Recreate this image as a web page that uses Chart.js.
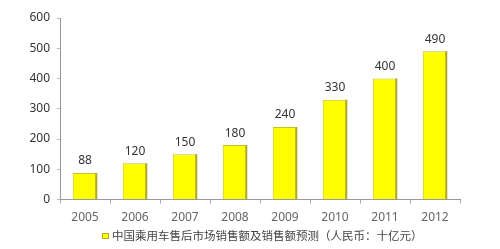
<!DOCTYPE html>
<html>
<head>
<meta charset="utf-8">
<script src="https://cdn.jsdelivr.net/npm/chart.js@4"></script>
<style>
  html, body { margin: 0; padding: 0; background: #fff; }
  #wrap { width: 500px; height: 249px; position: relative; }
</style>
</head>
<body>
<div id="wrap"><canvas id="salesChart" width="500" height="249"></canvas></div>
<script>
const years = ['2005', '2006', '2007', '2008', '2009', '2010', '2011', '2012'];
const sales = [88, 120, 150, 180, 240, 330, 400, 490];
const yTicks = [0, 100, 200, 300, 400, 500, 600];
const seriesLabel = '中国乘用车售后市场销售额及销售额预测（人民币：十亿元）';

const numFont = '"Noto Sans", "Open Sans", sans-serif';
const cjkFont = '"Noto Sans CJK SC", "Noto Sans", sans-serif';

// value labels above each bar
const barValues = {
  id: 'barValues',
  afterDatasetsDraw(chart) {
    const ctx = chart.ctx;
    const meta = chart.getDatasetMeta(0);
    ctx.save();
    ctx.font = '12px ' + numFont;
    ctx.fillStyle = '#333';
    ctx.textAlign = 'center';
    ctx.textBaseline = 'middle';
    meta.data.forEach((bar, i) => {
      ctx.fillText(String(sales[i]), bar.x, bar.y - 12);
    });
    ctx.restore();
  }
};

// darker right edge to mimic the bevelled bars
const barShade = {
  id: 'barShade',
  afterDatasetsDraw(chart) {
    const ctx = chart.ctx;
    const meta = chart.getDatasetMeta(0);
    ctx.save();
    meta.data.forEach(bar => {
      const right = bar.x + bar.width / 2;
      ctx.fillStyle = '#ADA62A';
      ctx.fillRect(right - 2, bar.y, 2, bar.base - bar.y);
    });
    ctx.restore();
  }
};

// legend drawn under the axis, offset like the original
const bottomLegend = {
  id: 'bottomLegend',
  afterDraw(chart) {
    const ctx = chart.ctx;
    ctx.save();
    ctx.fillStyle = '#FFFF00';
    ctx.fillRect(102, 233, 7, 6);
    ctx.strokeStyle = '#B5AE1A';
    ctx.lineWidth = 1;
    ctx.strokeRect(102.5, 233.5, 6, 5);
    ctx.font = '11.5px ' + cjkFont;
    ctx.fillStyle = '#444';
    ctx.textAlign = 'left';
    ctx.textBaseline = 'middle';
    ctx.fillText(seriesLabel, 112, 236);
    ctx.restore();
  }
};

new Chart(document.getElementById('salesChart'), {
  type: 'bar',
  data: {
    labels: years,
    datasets: [{
      label: seriesLabel,
      data: sales,
      backgroundColor: '#FFFF00',
      borderColor: '#C8C21E',
      borderWidth: 1,
      barPercentage: 0.49,
      categoryPercentage: 1
    }]
  },
  plugins: [barShade, barValues, bottomLegend],
  options: {
    responsive: false,
    animation: false,
    layout: { padding: { left: 0, right: 40, top: 18, bottom: 17 } },
    plugins: {
      tooltip: { enabled: false },
      legend: { display: false }
    },
    scales: {
      x: {
        offset: true,
        grid: { display: true, drawOnChartArea: false, offset: true, tickLength: 4, color: '#aaa' },
        border: { color: '#999' },
        ticks: { color: '#666', font: { size: 12, family: numFont }, padding: 7 }
      },
      y: {
        min: 0,
        max: 600,
        afterBuildTicks(axis) { axis.ticks = yTicks.map(v => ({ value: v })); },
        afterFit(axis) { axis.width = 60; },
        grid: { display: true, drawOnChartArea: false, tickLength: 3, color: '#bbb' },
        border: { color: '#999' },
        ticks: { color: '#333', font: { size: 12, family: numFont }, padding: 7 }
      }
    }
  }
});
</script>
</body>
</html>
